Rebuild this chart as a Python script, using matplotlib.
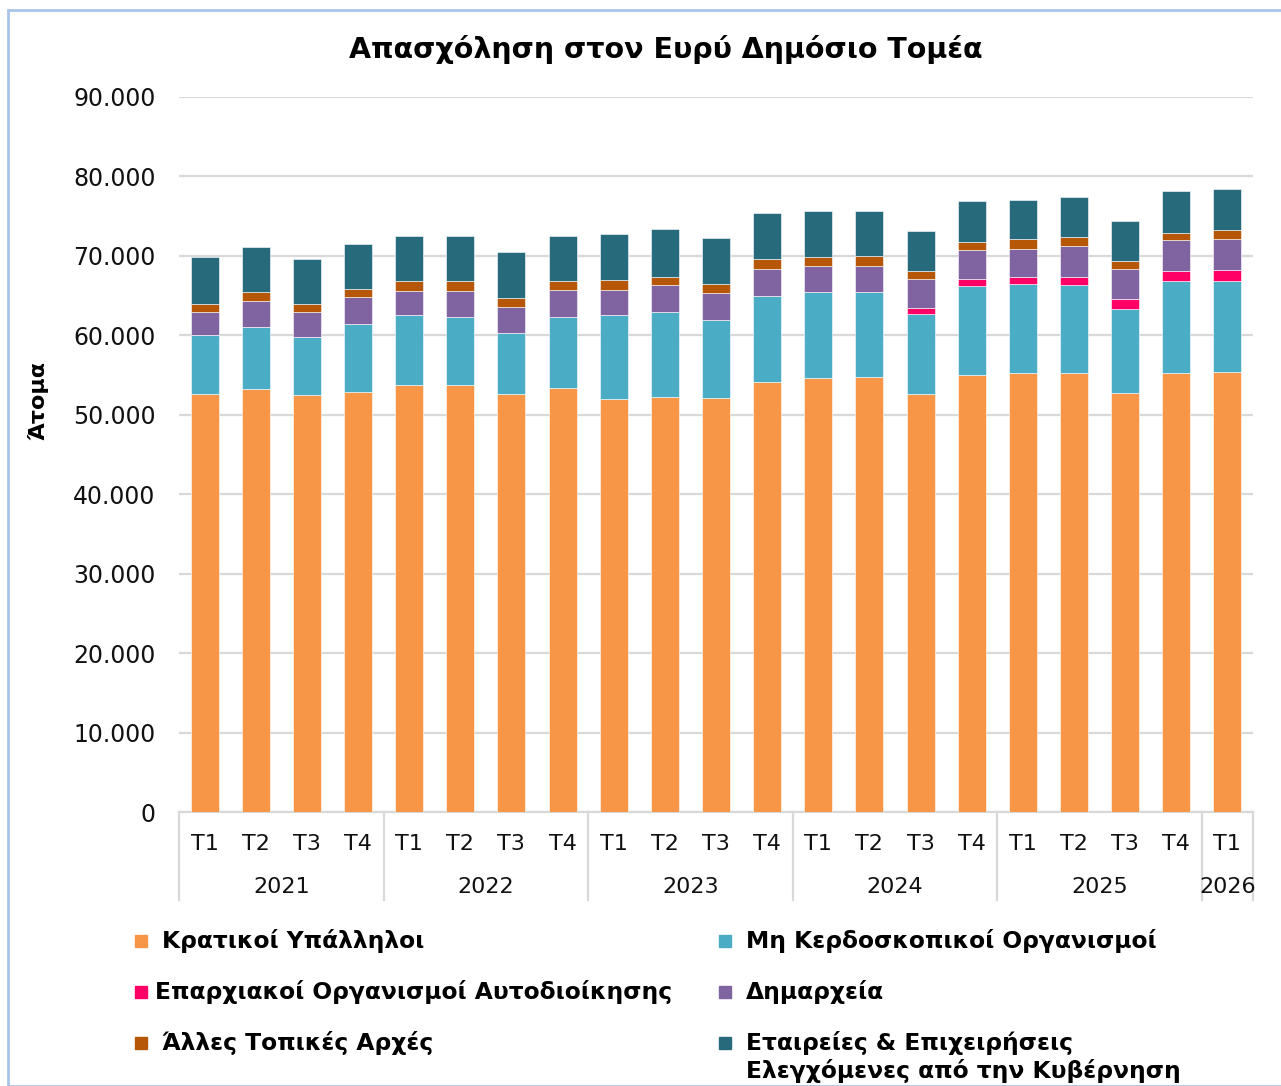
import matplotlib.pyplot as plt
from matplotlib.patches import Rectangle
from matplotlib.ticker import FuncFormatter
import numpy as np

plt.rcParams['font.family'] = ['DejaVu Sans']

years = ["2021", "2022", "2023", "2024", "2025", "2026"]
quarters = ["T1", "T2", "T3", "T4"] * 5 + ["T1"]

# values in thousands of persons, stacked bottom to top
kratikoi = [52.6, 53.2, 52.45, 52.9, 53.7, 53.7, 52.6, 53.4, 52.0, 52.3, 52.15,
            54.15, 54.6, 54.75, 52.65, 55.05, 55.2, 55.2, 52.8, 55.2, 55.4]
mh_kerdoskopikoi = [7.45, 7.9, 7.3, 8.5, 8.8, 8.65, 7.65, 8.95, 10.5, 10.65, 9.8,
                    10.8, 10.85, 10.65, 10.05, 11.1, 11.3, 11.15, 10.5, 11.65, 11.45]
eparxiakoi = [0, 0, 0, 0, 0, 0, 0, 0, 0, 0, 0,
              0, 0, 0, 0.75, 0.95, 0.9, 1.05, 1.25, 1.2, 1.4]
dimarxeia = [2.9, 3.2, 3.2, 3.4, 3.05, 3.2, 3.3, 3.35, 3.25, 3.4, 3.35,
             3.35, 3.3, 3.35, 3.65, 3.65, 3.5, 3.85, 3.8, 3.95, 3.9]
alles_topikes = [1.05, 1.1, 1.05, 1.0, 1.25, 1.25, 1.1, 1.1, 1.2, 1.05, 1.2,
                 1.25, 1.1, 1.25, 1.05, 1.05, 1.2, 1.1, 0.95, 0.9, 1.05]
etaireies = [5.85, 5.7, 5.65, 5.7, 5.65, 5.65, 5.8, 5.75, 5.75, 5.95, 5.8,
             5.85, 5.8, 5.65, 4.95, 5.05, 4.95, 5.05, 5.15, 5.25, 5.2]

series_names = ["Κρατικοί Υπάλληλοι", "Μη Κερδοσκοπικοί Οργανισμοί",
                "Επαρχιακοί Οργανισμοί Αυτοδιοίκησης", "Δημαρχεία",
                "Άλλες Τοπικές Αρχές",
                "Εταιρείες & Επιχειρήσεις\nΕλεγχόμενες από την Κυβέρνηση"]
series_values = [kratikoi, mh_kerdoskopikoi, eparxiakoi, dimarxeia, alles_topikes, etaireies]
colors = ["#F79646", "#4BACC6", "#FF0066", "#8064A2", "#B65708", "#276A7C"]

fig = plt.figure(figsize=(12.81, 10.86), dpi=100)
fig.patches.append(Rectangle((8 / 1281, 0), 2, 1 - 10 / 1086, transform=fig.transFigure,
                             fill=False, edgecolor="#A9C4EB", linewidth=2))

ax = fig.add_axes([179 / 1281, 1 - 812 / 1086, (1253 - 179) / 1281, (812 - 97) / 1086])

x = np.arange(len(quarters))
bottom = np.zeros(len(quarters))
for name, vals, col in zip(series_names, series_values, colors):
    v = np.array(vals) * 1000
    ax.bar(x, v, 0.55, bottom=bottom, color=col, edgecolor="white", linewidth=0.4, zorder=3)
    bottom += v

ax.set_xlim(-0.5, len(quarters) - 0.5)
ax.set_ylim(0, 90000)
ax.set_yticks(np.arange(0, 90001, 10000))
ax.yaxis.set_major_formatter(FuncFormatter(lambda v, p: f"{int(v):,}".replace(",", ".")))
ax.grid(axis="y", color="#D9D9D9", linewidth=1.6, zorder=0)
for s in ["top", "right", "left"]:
    ax.spines[s].set_visible(False)
ax.spines["bottom"].set_color("#D9D9D9")
ax.spines["bottom"].set_linewidth(1.6)
ax.tick_params(axis="y", length=0, labelsize=17, pad=17, labelcolor="#111111")
ax.set_xticks(x)
ax.set_xticklabels(quarters)
ax.tick_params(axis="x", length=0, labelsize=16, pad=16, labelcolor="#111111")

ax.set_ylabel("Άτομα", fontsize=16, fontweight="bold")
ax.yaxis.set_label_coords(-0.122, 0.576)

# year groups on the category axis
trans = ax.get_xaxis_transform()
starts = [0, 4, 8, 12, 16, 20]
ends = [4, 8, 12, 16, 20, 21]
for yr, s, e in zip(years, starts, ends):
    ax.text((s + e - 1) / 2, -0.105, yr, transform=trans, ha="center", va="center",
            fontsize=16, color="#111111")
for b in starts + [21]:
    ax.plot([b - 0.5, b - 0.5], [0, -0.123], transform=trans, color="#D9D9D9",
            linewidth=1.6, clip_on=False)

fig.text(666 / 1281, 1 - 50 / 1086, "Απασχόληση στον Ευρύ Δημόσιο Τομέα",
         ha="center", va="center", fontsize=20.5, fontweight="bold")

# legend, two columns
col_x = [141, 725]
row_y = [941, 992, 1043]
for i, (name, col) in enumerate(zip(series_names, colors)):
    r, c = divmod(i, 2)
    mx = col_x[c]
    my = row_y[r]
    fig.patches.append(Rectangle(((mx - 6) / 1281, 1 - (my + 6) / 1086), 12 / 1281, 12 / 1086,
                                 transform=fig.transFigure, color=col))
    tx = mx + (21 if i != 2 else 14)
    fig.text(tx / 1281, 1 - (my - 12) / 1086, name, ha="left", va="top",
             fontsize=16.8, fontweight="bold", linespacing=1.2)

fig.savefig("out.png", dpi=100)
